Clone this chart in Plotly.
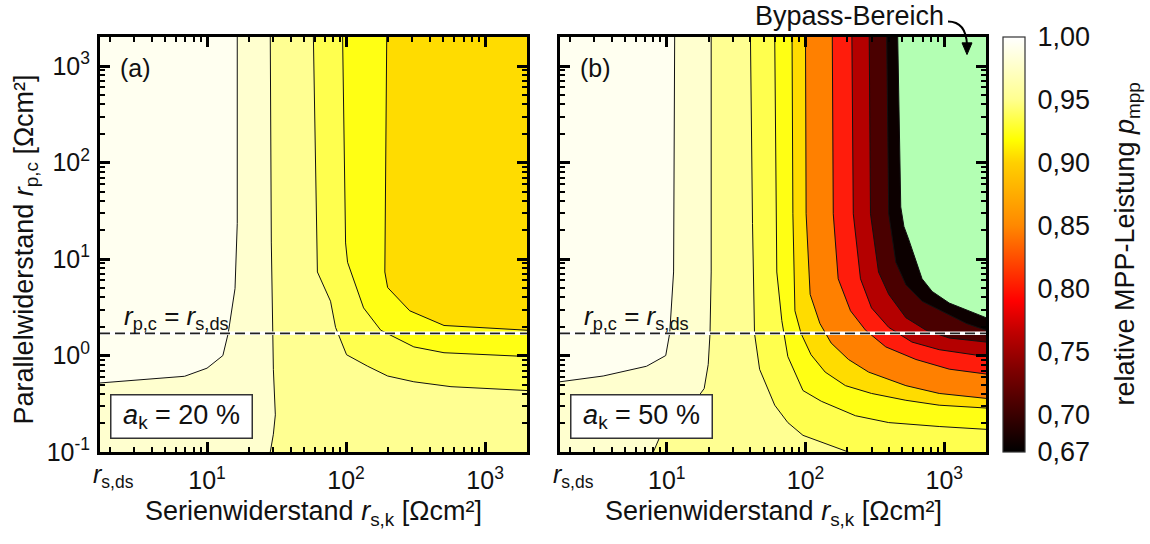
import math
import plotly.graph_objects as go

# ---- axis limits ---------------------------------------------------------
RS_DS = 1.7            # r_s,ds  [Ohm cm^2]
RS_MAX = 2000.0
RP_MIN, RP_MAX = 0.1, 2000.0

# contour levels of p_mpp and the fill colour of the band just below each level
LEVELS = [0.97, 0.94, 0.91, 0.88, 0.85, 0.82, 0.79, 0.76, 0.73, 0.70, 0.67]
BAND_BELOW = ["#FFFFCF", "#FFFF92", "#FFFF4E", "#FFFF14", "#FFDC00", "#FF8000",
              "#FF1C0C", "#B40000", "#4A0000", "#0C0000", "#B3FFB3"]
TOP_BAND = "#FFFFF0"

# ---- panel (a): a_k = 20 %  (contour lines, r_s,k / r_p,c pairs) ---------
A97_RS = [16.5, 16.5, 15.9, 14.2, 13.0, 10.0, 6.9, 2.9, 1.7]
A97_RP = [2000, 23.4, 4.95, 1.70, 1.00, 0.74, 0.61, 0.55, 0.52]
A94_RS = [28.5, 29.0, 30.0, 31.0, 30.0, 28.5]
A94_RP = [2000, 14.7, 0.72, 0.243, 0.153, 0.1]
A91_RS = [58.2, 62.2, 77.3, 84.0, 100.8, 143, 199, 307, 568, 2000]
A91_RP = [2000, 7.35, 3.66, 1.96, 1.02, 0.775, 0.614, 0.535, 0.476, 0.434]
A88_RS = [94.4, 99.2, 102.5, 133.6, 177.5, 307, 506, 2000]
A88_RP = [2000, 14.7, 9.26, 3.12, 1.83, 1.23, 1.07, 0.977]
A85_RS = [196, 190, 199, 287, 506, 2000]
A85_RP = [2000, 7.35, 5.07, 2.91, 2.05, 1.83]

# ---- panel (b): a_k = 50 % ------------------------------------------------
B97_RS = [11.4, 11.2, 10.5, 9.83, 7.15, 3.48, 1.7]
B97_RP = [2000, 7.35, 1.70, 1.00, 0.775, 0.614, 0.535]
B94_RS = [20.9, 20.9, 20.5, 19.9, 18.6, 16.5, 8.9, 8.0]
B94_RP = [2000, 7.35, 1.70, 0.81, 0.455, 0.36, 0.143, 0.1]
B91_RS = [40.1, 41.5, 42.9, 46.7, 60.0, 74.6, 95.9, 187, 204]
B91_RP = [2000, 23.4, 1.70, 0.72, 0.306, 0.202, 0.149, 0.105, 0.1]
B88_RS = [60.0, 62.1, 67.5, 74.6, 95.9, 130, 229, 398, 920, 2000]
B88_RP = [2000, 7.35, 2.3, 0.977, 0.434, 0.336, 0.238, 0.202, 0.184, 0.172]
B85_RS = [80.0, 81.1, 83.9, 92.8, 109.6, 138.6, 194, 299, 529, 920, 2000]
B85_RP = [2000, 29.5, 2.91, 1.70, 1.02, 0.674, 0.488, 0.405, 0.344, 0.306, 0.286]
B82_RS = [100, 101, 108, 127, 153, 204, 285, 529, 920, 2000]
B82_RP = [2000, 29.5, 4.31, 2.15, 1.35, 0.911, 0.674, 0.488, 0.405, 0.36]
B79_RS = [156, 158.5, 172, 211, 271, 379, 625, 1087, 2000]
B79_RP = [2000, 29.5, 6.25, 2.91, 1.83, 1.23, 0.911, 0.723, 0.644]
B76_RS = [216, 221, 249, 299, 398, 585, 920, 2000]
B76_RP = [2000, 29.5, 6.25, 3.12, 1.96, 1.38, 1.15, 0.977]
B73_RS = [288, 294, 336, 398, 529, 740, 1087, 2000]
B73_RP = [2000, 29.5, 7.35, 4.31, 2.47, 1.83, 1.52, 1.38]
B70_RS = [385, 398, 448, 529, 692, 1035, 1446, 2000]
B70_RP = [2000, 29.5, 9.26, 5.43, 3.66, 2.71, 2.15, 1.83]
B67_RS = [462, 486, 512, 556, 692, 818, 1087, 2000]
B67_RP = [2000, 34.7, 21.8, 15.8, 6.25, 4.62, 3.5, 2.47]

PANEL_A = [(A97_RS, A97_RP), (A94_RS, A94_RP), (A91_RS, A91_RP),
           (A88_RS, A88_RP), (A85_RS, A85_RP)]
PANEL_B = [(B97_RS, B97_RP), (B94_RS, B94_RP), (B91_RS, B91_RP),
           (B88_RS, B88_RP), (B85_RS, B85_RP), (B82_RS, B82_RP),
           (B79_RS, B79_RP), (B76_RS, B76_RP), (B73_RS, B73_RP),
           (B70_RS, B70_RP), (B67_RS, B67_RP)]

# colour bar of p_mpp
CB_MIN, CB_MAX = 0.67, 1.00
CB_TICKS = [0.67, 0.70, 0.75, 0.80, 0.85, 0.90, 0.95, 1.00]
CB_SCALE = [[0.0, "#000000"], [0.09, "#3A0000"], [0.20, "#800000"],
            [0.29, "#C00000"], [0.364, "#FF0000"], [0.47, "#FF5000"],
            [0.545, "#FF8800"], [0.697, "#FFD000"], [0.752, "#FFFF00"],
            [0.85, "#FFFF90"], [1.0, "#FFFFFF"]]

W, H = 1150, 544
PLOT_TOP, PLOT_BOT = 38, 464
PANEL_X = [(100, 527), (560, 986)]
CB_X0, CB_X1 = 1003, 1025
FONT = "Liberation Sans, Arial, sans-serif"
TXT = "#111111"


def px(x):
    return x / W


def py(y):
    return 1 - y / H


def region_below(rs, rp):
    """Close a contour line along the frame so that it encloses the lower-p side."""
    xs, ys = list(rs), list(rp)
    if xs[-1] <= RS_DS:
        xs += [RS_DS, RS_MAX, RS_MAX]
        ys += [RP_MIN, RP_MIN, RP_MAX]
    elif ys[-1] <= RP_MIN:
        xs += [RS_MAX, RS_MAX]
        ys += [RP_MIN, RP_MAX]
    else:
        xs += [RS_MAX]
        ys += [RP_MAX]
    return xs, ys


fig = go.Figure()

for k, lines in enumerate([PANEL_A, PANEL_B]):
    xa, ya = ("x", "y") if k == 0 else ("x2", "y2")
    # filled bands, from the highest level downwards
    for (rs, rp), col in zip(lines, BAND_BELOW):
        xs, ys = region_below(rs, rp)
        fig.add_trace(go.Scatter(x=xs, y=ys, mode="lines", fill="toself",
                                 fillcolor=col, line=dict(width=0),
                                 hoverinfo="skip", showlegend=False,
                                 xaxis=xa, yaxis=ya))
    # contour lines
    for rs, rp in lines:
        fig.add_trace(go.Scatter(x=rs, y=rp, mode="lines",
                                 line=dict(color="#111111", width=1),
                                 hoverinfo="skip", showlegend=False,
                                 xaxis=xa, yaxis=ya))
    # r_p,c = r_s,ds
    fig.add_trace(go.Scatter(x=[RS_DS, RS_MAX], y=[RS_DS, RS_DS], mode="lines",
                             line=dict(color="white", width=3.5),
                             hoverinfo="skip", showlegend=False, xaxis=xa, yaxis=ya))
    fig.add_trace(go.Scatter(x=[RS_DS, RS_MAX], y=[RS_DS, RS_DS], mode="lines",
                             line=dict(color="#222222", width=1.8, dash="10px,5px"),
                             hoverinfo="skip", showlegend=False, xaxis=xa, yaxis=ya))

# colour bar
fig.add_trace(go.Scatter(
    x=[None], y=[None], mode="markers", showlegend=False, hoverinfo="skip",
    xaxis="x2", yaxis="y2",
    marker=dict(color=[CB_MIN], cmin=CB_MIN, cmax=CB_MAX, colorscale=CB_SCALE,
                showscale=True,
                colorbar=dict(
                    x=px(CB_X0), xanchor="left", y=py((PLOT_TOP + PLOT_BOT) / 2),
                    yanchor="middle", len=(PLOT_BOT - PLOT_TOP) / H, lenmode="fraction",
                    thickness=CB_X1 - CB_X0, thicknessmode="pixels", xpad=0, ypad=0,
                    outlinewidth=1.2, outlinecolor="#333333",
                    ticks="outside", ticklen=7, tickcolor="rgba(0,0,0,0)",
                    tickvals=CB_TICKS,
                    ticktext=[f"{v:.2f}".replace(".", ",") for v in CB_TICKS],
                    tickfont=dict(size=27, color=TXT, family=FONT),
                    title=dict(text="")))))

# short inner tick marks of the colour bar
for v in CB_TICKS[1:-1]:
    yv = PLOT_TOP + (CB_MAX - v) / (CB_MAX - CB_MIN) * (PLOT_BOT - PLOT_TOP)
    fig.add_shape(type="line", xref="paper", yref="paper",
                  x0=px(CB_X1 - 5), x1=px(CB_X1), y0=py(yv), y1=py(yv),
                  line=dict(color="#333333", width=1))

minor_vals = [m * 10 ** e for e in range(-1, 4) for m in range(2, 10)]


def log_axis(domain, rng, tickvals, ticktext, show_labels, anchor, standoff):
    return dict(
        type="log", domain=domain, range=rng, anchor=anchor,
        showline=True, linewidth=3, linecolor="black", mirror="allticks",
        ticks="inside", ticklen=10, tickwidth=2.5, tickcolor="black",
        tickvals=tickvals, ticktext=ticktext, showticklabels=show_labels,
        tickfont=dict(size=25, color=TXT, family=FONT), ticklabelstandoff=standoff,
        showgrid=False, zeroline=False,
        minor=dict(tickmode="array", tickvals=minor_vals, ticks="inside",
                   ticklen=5, tickwidth=2, tickcolor="black", showgrid=False))


xr = [math.log10(RS_DS), math.log10(RS_MAX)]
yr = [math.log10(RP_MIN), math.log10(RP_MAX)]
x_ticks = [10, 100, 1000]
x_text = ["10<sup>1</sup>", "10<sup>2</sup>", "10<sup>3</sup>"]
y_ticks = [0.1, 1, 10, 100, 1000]
y_text = ["10<sup>-1</sup>", "10<sup>0</sup>", "10<sup>1</sup>", "10<sup>2</sup>", "10<sup>3</sup>"]
ydom = [py(PLOT_BOT), py(PLOT_TOP)]

fig.update_layout(
    width=W, height=H, margin=dict(l=0, r=0, t=0, b=0),
    paper_bgcolor="white", plot_bgcolor=TOP_BAND,
    font=dict(family=FONT, color=TXT),
    xaxis=log_axis([px(PANEL_X[0][0]), px(PANEL_X[0][1])], xr, x_ticks, x_text, True, "y", 4),
    yaxis=log_axis(ydom, yr, y_ticks, y_text, True, "x", 2),
    xaxis2=log_axis([px(PANEL_X[1][0]), px(PANEL_X[1][1])], xr, x_ticks, x_text, True, "y2", 4),
    yaxis2=log_axis(ydom, yr, y_ticks, y_text, False, "x2", 2),
)


def label(x, y, text, size, **kw):
    d = dict(x=px(x), y=py(y), xref="paper", yref="paper", text=text,
             showarrow=False, font=dict(size=size, color=TXT, family=FONT),
             xanchor="center", yanchor="middle")
    d.update(kw)
    return d


ann = []
x_title = "Serienwiderstand <i>r</i><sub>s,k</sub> [Ωcm²]"
for k, (x0, x1) in enumerate(PANEL_X):
    ann.append(label((x0 + x1) / 2, 527, x_title, 27))
    ann.append(label(x0 + 13, 489, "<i>r</i><sub>s,ds</sub>", 25))
    ann.append(label(x0 + 18, 70, ["(a)", "(b)"][k], 25, xanchor="left"))
    ann.append(label(x0 + 22, 345, "<i>r</i><sub>p,c</sub> = <i>r</i><sub>s,ds</sub>", 26,
                     xanchor="left", yanchor="bottom"))
    ann.append(label(x0 + 81, 428, "<i>a</i><sub>k</sub> = " + ["20 %", "50 %"][k], 27,
                     bgcolor="white", bordercolor="#333333", borderwidth=1.5,
                     width=136, height=38, borderpad=2))

ann.append(label(26, 256, "Parallelwiderstand <i>r</i><sub>p,c</sub> [Ωcm²]", 27, textangle=-90))
ann.append(label(1127, 251, "relative MPP-Leistung <i>p</i><sub>mpp</sub>", 27, textangle=-90))
ann.append(label(849, 16, "Bypass-Bereich", 27))
fig.update_layout(annotations=ann)

# curved pointer from the label into the bypass region
fig.add_shape(type="path", xref="paper", yref="paper",
              path=f"M {px(948)},{py(22)} Q {px(966)},{py(22)} {px(967)},{py(46)}",
              line=dict(color="black", width=2))
fig.add_shape(type="path", xref="paper", yref="paper",
              path=f"M {px(962)},{py(44)} L {px(972)},{py(44)} L {px(967)},{py(56)} Z",
              fillcolor="black", line=dict(color="black", width=1))

fig.write_html("out.html")
